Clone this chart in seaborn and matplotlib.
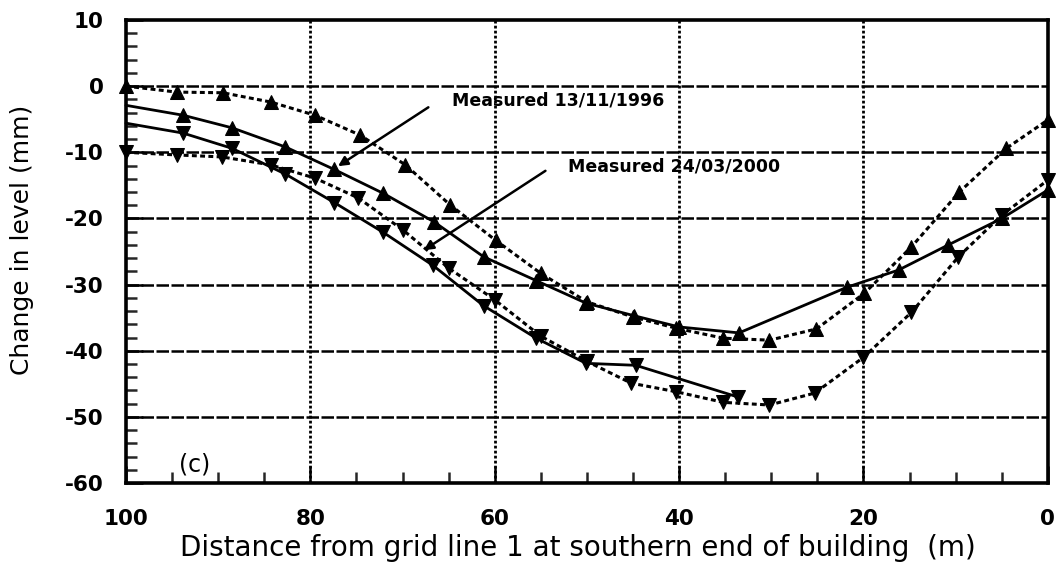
import matplotlib
matplotlib.use("Agg")
import matplotlib.pyplot as plt
from matplotlib.ticker import MultipleLocator
import seaborn as sns
import pandas as pd

# Distance from grid line 1 (m) and change in level (mm) for each profile
dist_a = [100, 94.5, 89.5, 84.3, 79.5, 74.6, 69.7, 64.8, 59.9, 55.0, 50.0,
          45.0, 40.3, 35.2, 30.2, 25.1, 19.9, 14.8, 9.6, 4.5, 0]
level_a = [0, -0.9, -1.0, -2.4, -4.4, -7.4, -11.9, -18.0, -23.3, -28.3, -32.6,
           -34.9, -36.6, -38.1, -38.4, -36.7, -31.3, -24.3, -16.0, -9.4, -5.1]

dist_b = [100, 93.8, 88.5, 82.7, 77.4, 72.1, 66.6, 61.2, 55.5, 50.1, 44.9,
          40.0, 33.5, 21.8, 16.2, 10.8, 5.0, 0]
level_b = [-2.9, -4.4, -6.3, -9.2, -12.6, -16.2, -20.5, -25.8, -29.4, -32.8,
           -34.7, -36.4, -37.3, -30.4, -27.8, -24.0, -20.0, -15.7]

dist_c = [100, 93.8, 88.5, 82.7, 77.4, 72.1, 66.7, 61.2, 55.5, 50.1, 44.7, 33.6]
level_c = [-5.6, -7.1, -9.4, -13.3, -17.6, -22.1, -27.1, -33.2, -38.1, -41.9,
           -42.2, -47.0]

dist_d = [100, 94.5, 89.6, 84.3, 79.5, 74.8, 69.9, 65.0, 60.0, 55.0, 50.0,
          45.2, 40.3, 35.2, 30.2, 25.3, 20.0, 14.8, 9.7, 5.0, 0]
level_d = [-10.0, -10.4, -10.7, -11.9, -13.9, -16.9, -21.8, -27.5, -32.3, -37.8,
           -41.6, -44.9, -46.2, -47.8, -48.2, -46.4, -41.0, -34.2, -25.8, -19.5, -14.2]

x_ticks = [100, 80, 60, 40, 20, 0]
y_ticks = [10, 0, -10, -20, -30, -40, -50, -60]

label_1996 = "Measured 13/11/1996"
label_2000 = "Measured 24/03/2000"

sns.set_theme(style="ticks")
plt.rcParams["font.family"] = ["DejaVu Sans"]
plt.rcParams["axes.unicode_minus"] = False

fig = plt.figure(figsize=(10.56, 5.71), dpi=100)
ax = fig.add_axes([0.1193, 0.154, 0.873, 0.811])

dotted = (0, (1.6, 1.1))
common = dict(color="black", estimator=None, sort=False, ax=ax,
              markersize=10.5, markeredgecolor="black", markerfacecolor="black",
              clip_on=False, zorder=3)

sns.lineplot(data=pd.DataFrame({"d": dist_a, "v": level_a}), x="d", y="v",
             marker="^", linestyle=dotted, linewidth=2.2, **common)
sns.lineplot(data=pd.DataFrame({"d": dist_b, "v": level_b}), x="d", y="v",
             marker="^", linestyle="-", linewidth=2.0, markevery=slice(1, None),
             **common)
sns.lineplot(data=pd.DataFrame({"d": dist_c, "v": level_c}), x="d", y="v",
             marker="v", linestyle="-", linewidth=2.0, markevery=slice(1, None),
             **common)
sns.lineplot(data=pd.DataFrame({"d": dist_d, "v": level_d}), x="d", y="v",
             marker="v", linestyle=dotted, linewidth=2.2, **common)

ax.set_xlim(100, 0)
ax.set_ylim(-60, 10)
ax.set_xticks(x_ticks)
ax.set_yticks(y_ticks)
ax.xaxis.set_minor_locator(MultipleLocator(5))
ax.yaxis.set_minor_locator(MultipleLocator(2))

# grid: dashed horizontals, dotted verticals
for yv in y_ticks[1:-1]:
    ax.axhline(yv, color="black", linewidth=1.8, linestyle=(0, (5, 1.0)), zorder=1)
for xv in x_ticks[1:-1]:
    ax.axvline(xv, color="black", linewidth=2.0, linestyle=(0, (1.0, 0.8)), zorder=1)

for side in ["top", "bottom", "left", "right"]:
    ax.spines[side].set_visible(True)
    ax.spines[side].set_linewidth(2.6)
    ax.spines[side].set_color("black")

ax.tick_params(axis="both", which="major", direction="in", length=12, width=1.8,
               labelsize=15.5, pad=16, colors="black")
ax.tick_params(axis="x", which="major", pad=19)
ax.tick_params(axis="both", which="minor", direction="in", length=8, width=1.8)
ax.tick_params(axis="y", which="both", right=False)
ax.tick_params(axis="x", which="both", top=False)
for lab in ax.get_xticklabels() + ax.get_yticklabels():
    lab.set_fontweight("bold")

ax.set_xlabel("Distance from grid line 1 at southern end of building  (m)",
              fontsize=20, color="black")
ax.xaxis.set_label_coords(0.49, -0.14)
ax.xaxis.label.set_va("center")
ax.set_ylabel("Change in level (mm)", fontsize=18, color="black")
ax.yaxis.set_label_coords(-0.113, 0.525)
ax.yaxis.label.set_va("center")

ax.text(92.5, -57.2, "(c)", fontsize=17, ha="center", va="center", color="black")

ax.text(64.6, -2.1, label_1996, fontsize=12.5, fontweight="bold",
        ha="left", va="center", color="black")
ax.text(52.1, -12.2, label_2000, fontsize=12.5, fontweight="bold",
        ha="left", va="center", color="black")

arrow = dict(arrowstyle="-|>", color="black", linewidth=1.8, mutation_scale=14,
             shrinkA=0, shrinkB=0)
ax.annotate("", xy=(77.0, -12.1), xytext=(67.2, -3.2), arrowprops=arrow, zorder=4)
ax.annotate("", xy=(67.7, -24.8), xytext=(54.5, -12.8), arrowprops=arrow, zorder=4)

fig.savefig("out.png", dpi=100)
